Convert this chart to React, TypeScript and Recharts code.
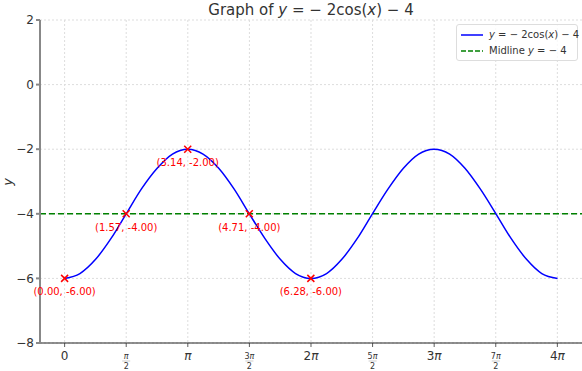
import { ComposedChart, Line, Scatter, XAxis, YAxis, CartesianGrid, ReferenceLine } from "recharts";

const xValues = [
  0, 0.39, 0.79, 1.18, 1.57, 1.96, 2.36, 2.75, 3.14, 3.53, 3.93, 4.32, 4.71, 5.11, 5.5, 5.89,
  6.28, 6.68, 7.07, 7.46, 7.85, 8.25, 8.64, 9.03, 9.42, 9.82, 10.21, 10.6, 11.0, 11.39, 11.78, 12.17, 12.57,
];
const yValues = [
  -6, -5.85, -5.41, -4.77, -4, -3.23, -2.59, -2.15, -2, -2.15, -2.59, -3.23, -4, -4.77, -5.41, -5.85,
  -6, -5.85, -5.41, -4.77, -4, -3.23, -2.59, -2.15, -2, -2.15, -2.59, -3.23, -4, -4.77, -5.41, -5.85, -6,
];
const keyX = [0, 1.57, 3.14, 4.71, 6.28];
const keyY = [-6, -4, -2, -4, -6];
const keyLabels = ["(0.00, -6.00)", "(1.57, -4.00)", "(3.14, -2.00)", "(4.71, -4.00)", "(6.28, -6.00)"];

const xTicks = [0, 1.5708, 3.1416, 4.7124, 6.2832, 7.854, 9.4248, 10.9956, 12.5664];
const xTickCoef = ["0", "", "", "3", "2", "5", "3", "7", "4"];
const xTickPi = [false, true, true, true, true, true, true, true, true];
const xTickFrac = [false, true, false, true, false, true, false, true, false];
const yTicks = [2, 0, -2, -4, -6, -8];

const curve = xValues.map((x, i) => ({ x, y: yValues[i] }));
const points = keyX.map((x, i) => ({ x, y: keyY[i], label: keyLabels[i] }));

const FONT = "'DejaVu Sans', sans-serif";

const XTick = (props: any) => {
  const { x, y, index } = props;
  const coef = xTickCoef[index];
  const pi = xTickPi[index] ? <tspan fontStyle="italic">π</tspan> : null;
  if (xTickFrac[index]) {
    return (
      <g>
        <line x1={x} y1={y - 8} x2={x} y2={y - 4} stroke="#333" strokeWidth={0.8} />
        <text x={x} y={y + 8} textAnchor="middle" fontSize={8} fill="#333" fontFamily={FONT}>{coef}{pi}</text>
        <line x1={x - 4} y1={y + 10} x2={x + 4} y2={y + 10} stroke="#999" strokeWidth={0.5} />
        <text x={x} y={y + 18} textAnchor="middle" fontSize={8} fill="#333" fontFamily={FONT}>2</text>
      </g>
    );
  }
  return (
    <g>
      <line x1={x} y1={y - 8} x2={x} y2={y - 4} stroke="#333" strokeWidth={0.8} />
      <text x={x} y={y + 9} textAnchor="middle" fontSize={12} fill="#333" fontFamily={FONT}>{coef}{pi}</text>
    </g>
  );
};

const KeyMarker = (props: any) => {
  const { cx, cy, payload } = props;
  const s = 3.5;
  return (
    <g>
      <line x1={cx - s} y1={cy - s} x2={cx + s} y2={cy + s} stroke="red" strokeWidth={1.5} />
      <line x1={cx - s} y1={cy + s} x2={cx + s} y2={cy - s} stroke="red" strokeWidth={1.5} />
      <text x={cx} y={cy + 17} textAnchor="middle" fontSize={10} fill="red" fontFamily={FONT}>{payload.label}</text>
    </g>
  );
};

export default function App() {
  return (
    <div style={{ position: "absolute", left: 0, top: 0, width: 582, height: 371, background: "#fff", fontFamily: FONT }}>
      <ComposedChart width={582} height={371} data={curve} margin={{ top: 20, right: 0, left: 0, bottom: 0 }}>
        <CartesianGrid stroke="#ddd" strokeDasharray="2 2" horizontalValues={yTicks} verticalValues={xTicks} />
        <XAxis
          type="number"
          dataKey="x"
          domain={[-0.628, 13.195]}
          ticks={xTicks}
          height={28}
          stroke="#222"
          tickLine={false}
          tick={<XTick />}
          interval={0}
        />
        <YAxis
          type="number"
          domain={[-8, 2]}
          ticks={yTicks}
          width={40}
          stroke="#888"
          strokeWidth={2}
          tick={{ fontSize: 12, fill: "#333", fontFamily: FONT }}
          tickSize={4}
          tickFormatter={(v: number) => (v < 0 ? "−" + Math.abs(v) : String(v))}
          interval={0}
        />
        <ReferenceLine y={-4} stroke="green" strokeWidth={1.5} strokeDasharray="6 3" />
        <Line type="monotone" dataKey="y" stroke="blue" strokeWidth={1.5} dot={false} isAnimationActive={false} />
        <Scatter data={points} dataKey="y" shape={<KeyMarker />} isAnimationActive={false} />
        <text x={311} y={15} textAnchor="middle" fontSize={15} fill="#333" fontFamily={FONT}>
          Graph of <tspan fontStyle="italic">y</tspan> = − 2cos(<tspan fontStyle="italic">x</tspan>) − 4
        </text>
        <text x={12} y={182} textAnchor="middle" fontSize={13} fill="#333" fontStyle="italic" fontFamily={FONT}
          transform="rotate(-90 12 182)">y</text>
      </ComposedChart>
      <div style={{
        position: "absolute", left: 456, top: 24, width: 122, height: 37, border: "1px solid #ddd",
        borderRadius: 3, background: "rgba(255,255,255,0.8)", fontSize: 10, color: "#333", lineHeight: "16px",
        padding: "2px 0 0 4px", boxSizing: "border-box", whiteSpace: "nowrap",
      }}>
        <div style={{ display: "flex", alignItems: "center" }}>
          <svg width={22} height={10} style={{ marginRight: 6, flexShrink: 0 }}><line x1={0} y1={5} x2={22} y2={5} stroke="blue" strokeWidth={1.5} /></svg>
          <span><i>y</i> = − 2cos(<i>x</i>) − 4</span>
        </div>
        <div style={{ display: "flex", alignItems: "center" }}>
          <svg width={22} height={10} style={{ marginRight: 6, flexShrink: 0 }}><line x1={0} y1={5} x2={22} y2={5} stroke="green" strokeWidth={1.5} strokeDasharray="5 2" /></svg>
          <span>Midline <i>y</i> = − 4</span>
        </div>
      </div>
    </div>
  );
}
